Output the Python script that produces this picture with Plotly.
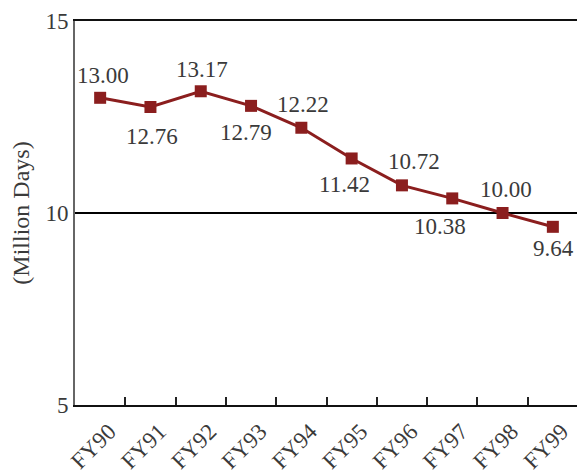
import plotly.graph_objects as go

years = ["FY90", "FY91", "FY92", "FY93", "FY94", "FY95", "FY96", "FY97", "FY98", "FY99"]
values = [13.00, 12.76, 13.17, 12.79, 12.22, 11.42, 10.72, 10.38, 10.00, 9.64]
y_ticks = [5, 10, 15]

# label offsets (pixels) relative to each point: x right, y up
label_dx = [3, 2, 1, -5, 2, -7, 12, -12, 3, 1]
label_dy = [22, -29, 22, -27, 23, -26, 24, -28, 24, -22]

font_family = "Liberation Serif"
text_color = "#3a3a3a"
line_color = "#8b1e1e"

fig = go.Figure()
fig.add_trace(go.Scatter(
    x=years, y=values,
    mode="lines+markers",
    line=dict(color=line_color, width=3),
    marker=dict(symbol="square", size=12, color=line_color),
    showlegend=False,
))

for yr, v, dx, dy in zip(years, values, label_dx, label_dy):
    fig.add_annotation(
        x=yr, y=v, text=f"{v:.2f}", showarrow=False,
        xshift=dx, yshift=dy,
        font=dict(family=font_family, size=23, color=text_color),
    )

fig.update_layout(
    width=577, height=468,
    margin=dict(l=67, r=7, t=13, b=71),
    paper_bgcolor="white", plot_bgcolor="white",
    font=dict(family=font_family, size=23, color=text_color),
    xaxis=dict(
        type="category",
        range=[-0.5, 9.5],
        tickson="boundaries",
        ticks="inside", ticklen=8, tickwidth=2, tickcolor="#222",
        showline=True, linecolor="#111", linewidth=2, mirror=True,
        showgrid=False,
        tickangle=-45,
        ticklabelshift=9,
        ticklabelstandoff=2,
        automargin=False,
        tickfont=dict(family=font_family, size=23, color=text_color),
    ),
    yaxis=dict(
        range=[5, 15],
        tickvals=y_ticks,
        ticks="", showline=True, linecolor="#666", linewidth=2,
        showgrid=True, gridcolor="#000000", gridwidth=1.5,
        zeroline=False,
        automargin=False,
        tickfont=dict(family=font_family, size=23, color=text_color),
        title=dict(text="(Million Days)", font=dict(family=font_family, size=24, color=text_color), standoff=12),
    ),
)

fig.write_html("out.html")
